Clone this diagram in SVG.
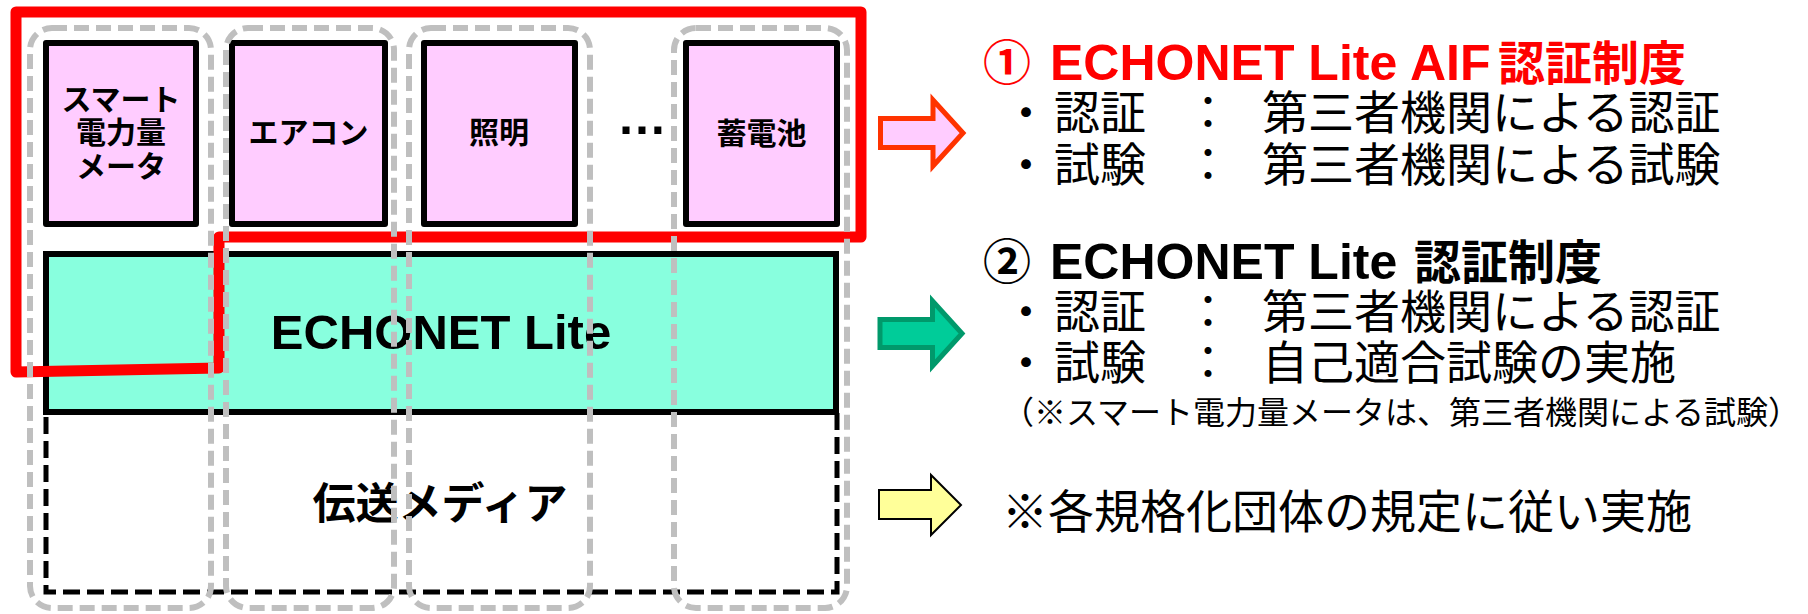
<svg xmlns="http://www.w3.org/2000/svg" width="1808" height="614" viewBox="0 0 1808 614">
<style>
.dev{fill:#FFCCFF;stroke:#000;stroke-width:6;stroke-linejoin:round}
.col{fill:none;stroke:#BFBFBF;stroke-width:6;stroke-dasharray:15 7}
.lbl{font-family:"Noto Sans CJK JP",sans-serif;font-weight:bold;font-size:30px;text-anchor:middle;fill:#000}
.lat{font-family:"Liberation Sans","Noto Sans CJK JP",sans-serif;font-weight:bold}
.jp{font-family:"Noto Sans CJK JP",sans-serif;font-size:46px;fill:#000}
.note{font-family:"Noto Sans CJK JP",sans-serif;font-size:32px;fill:#000}
.jb{font-family:"Noto Sans CJK JP",sans-serif;font-weight:bold}
</style>
<rect width="1808" height="614" fill="#fff"/>
<g id="device-smart-meter">
<rect class="dev" x="46" y="43" width="150" height="181"/>
<text class="lbl" x="121" y="110">スマート</text>
<text class="lbl" x="121" y="143">電力量</text>
<text class="lbl" x="121" y="177">メータ</text>
</g>
<g id="device-aircon">
<rect class="dev" x="232" y="43" width="153" height="181"/>
<text class="lbl" x="308.5" y="143">エアコン</text>
</g>
<g id="device-lighting">
<rect class="dev" x="424" y="43" width="151" height="181"/>
<text class="lbl" x="499" y="143">照明</text>
</g>
<g id="device-dots">
<text class="lat" x="642" y="134" font-size="50" text-anchor="middle">…</text>
</g>
<g id="device-battery">
<rect class="dev" x="686" y="43" width="151" height="181"/>
<text class="lbl" x="761.5" y="144">蓄電池</text>
</g>
<g id="layer-echonet">
<rect x="46" y="254" width="790" height="158" fill="#88FFDE" stroke="#000" stroke-width="6"/>
<text class="lat" x="441" y="349" font-size="49" text-anchor="middle">ECHONET Lite</text>
</g>
<g id="layer-media">
<rect x="46" y="412" width="791" height="180" fill="none" stroke="#000" stroke-width="5" stroke-dasharray="17 7"/>
<text class="jb" x="440" y="519" font-size="43" text-anchor="middle">伝送メディア</text>
</g>
<g id="aif-scope">
<path d="M16,12 L861,12 L861,237 L219,237 L219,368 L16,372 Z" fill="none" stroke="#FF0000" stroke-width="11" stroke-linejoin="round"/>
</g>
<g id="columns">
<rect class="col" x="30" y="28" width="181" height="580" rx="22"/>
<rect class="col" x="226" y="28" width="168" height="580" rx="22"/>
<rect class="col" x="409" y="28" width="181" height="580" rx="22"/>
<rect class="col" x="674" y="28" width="173" height="580" rx="22"/>
</g>
<g id="connectors">
<polygon points="880.5,118.5 933,118.5 933,100 963,133 933,166 933,147.5 880.5,147.5" fill="#FFCCFF" stroke="#FF3300" stroke-width="5"/>
<polygon points="880,319.5 932.5,319.5 932.5,301 962,333.5 932.5,366 932.5,347.5 880,347.5" fill="#00CC99" stroke="#00996B" stroke-width="5"/>
<polygon points="879,490 931,490 931,475 961,505 931,535 931,519 879,519" fill="#FFFF99" stroke="#000" stroke-width="2"/>
</g>
<g id="cert-aif">
<text class="lat" y="80" fill="#FF0000"><tspan class="jb" x="983" font-size="48" font-weight="normal">①</tspan><tspan x="1050" font-size="50">ECHONET Lite</tspan><tspan x="1410" font-size="50">AIF</tspan><tspan class="jb" x="1498" font-size="47">認証制度</tspan></text>
<text class="jp" y="129"><tspan x="1003">・</tspan><tspan x="1054">認証</tspan><tspan x="1185">：</tspan><tspan x="1262">第三者機関による認証</tspan></text>
<text class="jp" y="181"><tspan x="1003">・</tspan><tspan x="1054">試験</tspan><tspan x="1185">：</tspan><tspan x="1262">第三者機関による試験</tspan></text>
</g>
<g id="cert-echonet">
<text class="lat" y="279" fill="#000"><tspan class="jb" x="983" font-size="48" font-weight="normal">②</tspan><tspan x="1050" font-size="50">ECHONET Lite</tspan><tspan class="jb" x="1414" font-size="47">認証制度</tspan></text>
<text class="jp" y="328"><tspan x="1003">・</tspan><tspan x="1054">認証</tspan><tspan x="1185">：</tspan><tspan x="1262">第三者機関による認証</tspan></text>
<text class="jp" y="379"><tspan x="1003">・</tspan><tspan x="1054">試験</tspan><tspan x="1185">：</tspan><tspan x="1262">自己適合試験の実施</tspan></text>
<text class="note" x="1002" y="424">（※スマート電力量メータは、第三者機関による試験）</text>
</g>
<g id="cert-media">
<text class="jp" x="1002" y="528">※各規格化団体の規定に従い実施</text>
</g>
</svg>
